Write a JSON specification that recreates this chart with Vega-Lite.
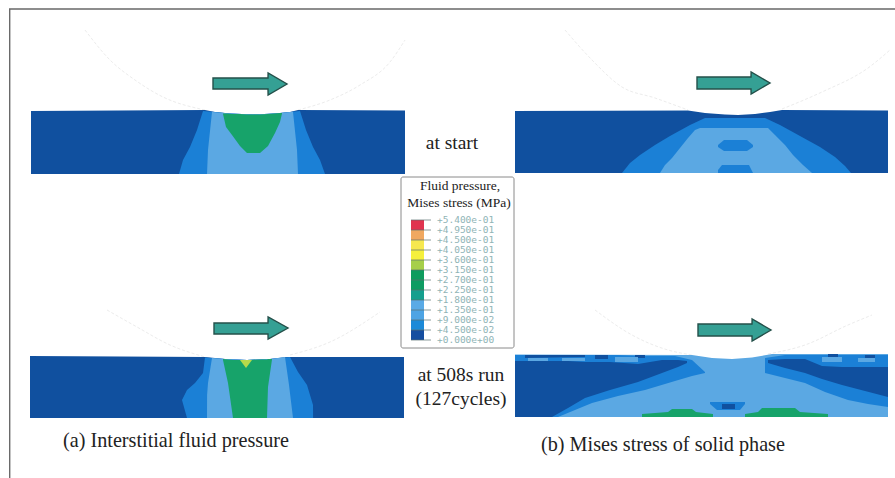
{"$schema":"https://vega.github.io/schema/vega-lite/v6.json","width":895,"height":478,"padding":0,"autosize":"none","background":"#ffffff","view":{"stroke":null},
"datasets":{
"smooth":[
{"id":"A1base","c":"dark","x":31,"t":111,"b":174},{"id":"A1base","c":"dark","x":205,"t":110,"b":174},{"id":"A1base","c":"dark","x":215,"t":112,"b":174},{"id":"A1base","c":"dark","x":230,"t":113.5,"b":174},{"id":"A1base","c":"dark","x":253,"t":114.5,"b":174},{"id":"A1base","c":"dark","x":275,"t":113.5,"b":174},{"id":"A1base","c":"dark","x":290,"t":112,"b":174},{"id":"A1base","c":"dark","x":298,"t":110,"b":174},{"id":"A1base","c":"dark","x":405,"t":110.5,"b":174},
{"id":"A1mid","c":"mid","x":179,"t":174,"b":174},{"id":"A1mid","c":"mid","x":183,"t":160,"b":174},{"id":"A1mid","c":"mid","x":190,"t":147,"b":174},{"id":"A1mid","c":"mid","x":197,"t":130,"b":174},{"id":"A1mid","c":"mid","x":203,"t":111,"b":174},{"id":"A1mid","c":"mid","x":215,"t":112,"b":174},{"id":"A1mid","c":"mid","x":230,"t":113.5,"b":174},{"id":"A1mid","c":"mid","x":253,"t":114.5,"b":174},{"id":"A1mid","c":"mid","x":275,"t":113.5,"b":174},{"id":"A1mid","c":"mid","x":290,"t":112,"b":174},{"id":"A1mid","c":"mid","x":300,"t":111,"b":174},{"id":"A1mid","c":"mid","x":306,"t":130,"b":174},{"id":"A1mid","c":"mid","x":313,"t":147,"b":174},{"id":"A1mid","c":"mid","x":320,"t":160,"b":174},{"id":"A1mid","c":"mid","x":325,"t":174,"b":174},
{"id":"A1light","c":"light","x":207,"t":174,"b":174},{"id":"A1light","c":"light","x":208,"t":150,"b":174},{"id":"A1light","c":"light","x":212,"t":112,"b":174},{"id":"A1light","c":"light","x":230,"t":113.5,"b":174},{"id":"A1light","c":"light","x":253,"t":114.5,"b":174},{"id":"A1light","c":"light","x":275,"t":113.5,"b":174},{"id":"A1light","c":"light","x":290,"t":112,"b":174},{"id":"A1light","c":"light","x":293,"t":112,"b":174},{"id":"A1light","c":"light","x":297,"t":150,"b":174},{"id":"A1light","c":"light","x":298,"t":174,"b":174},
{"id":"A1green","c":"green","x":223,"t":113.5,"b":114},{"id":"A1green","c":"green","x":226,"t":113.5,"b":127},{"id":"A1green","c":"green","x":232,"t":114,"b":135},{"id":"A1green","c":"green","x":240,"t":114,"b":146},{"id":"A1green","c":"green","x":247,"t":114.5,"b":153},{"id":"A1green","c":"green","x":260,"t":114.5,"b":153},{"id":"A1green","c":"green","x":268,"t":114,"b":146},{"id":"A1green","c":"green","x":275,"t":113.5,"b":133},{"id":"A1green","c":"green","x":280,"t":113,"b":122},{"id":"A1green","c":"green","x":282,"t":113,"b":113.5},
{"id":"A2base","c":"dark","x":515,"t":111,"b":173},{"id":"A2base","c":"dark","x":688,"t":110.5,"b":173},{"id":"A2base","c":"dark","x":705,"t":113,"b":173},{"id":"A2base","c":"dark","x":725,"t":114.5,"b":173},{"id":"A2base","c":"dark","x":738,"t":115,"b":173},{"id":"A2base","c":"dark","x":755,"t":114,"b":173},{"id":"A2base","c":"dark","x":770,"t":112,"b":173},{"id":"A2base","c":"dark","x":782,"t":110,"b":173},{"id":"A2base","c":"dark","x":888,"t":110.5,"b":173},
{"id":"B1base","c":"dark","x":30,"t":356,"b":418},{"id":"B1base","c":"dark","x":120,"t":356.5,"b":418},{"id":"B1base","c":"dark","x":205,"t":357,"b":418},{"id":"B1base","c":"dark","x":225,"t":359,"b":418},{"id":"B1base","c":"dark","x":247,"t":360,"b":418},{"id":"B1base","c":"dark","x":270,"t":359,"b":418},{"id":"B1base","c":"dark","x":287,"t":357,"b":418},{"id":"B1base","c":"dark","x":404,"t":357,"b":418},
{"id":"B1mid","c":"mid","x":182,"t":400,"b":400},{"id":"B1mid","c":"mid","x":187,"t":390,"b":418},{"id":"B1mid","c":"mid","x":195,"t":383,"b":418},{"id":"B1mid","c":"mid","x":203,"t":373,"b":418},{"id":"B1mid","c":"mid","x":205,"t":357.5,"b":418},{"id":"B1mid","c":"mid","x":225,"t":359,"b":418},{"id":"B1mid","c":"mid","x":247,"t":360,"b":418},{"id":"B1mid","c":"mid","x":270,"t":359,"b":418},{"id":"B1mid","c":"mid","x":290,"t":357,"b":418},{"id":"B1mid","c":"mid","x":298,"t":372,"b":418},{"id":"B1mid","c":"mid","x":307,"t":385,"b":418},{"id":"B1mid","c":"mid","x":313,"t":405,"b":418},{"id":"B1mid","c":"mid","x":313.1,"t":418,"b":418},
{"id":"B1light","c":"light","x":207,"t":418,"b":418},{"id":"B1light","c":"light","x":207.1,"t":395,"b":418},{"id":"B1light","c":"light","x":208,"t":383,"b":418},{"id":"B1light","c":"light","x":212,"t":358,"b":418},{"id":"B1light","c":"light","x":225,"t":359,"b":418},{"id":"B1light","c":"light","x":247,"t":360,"b":418},{"id":"B1light","c":"light","x":270,"t":359,"b":418},{"id":"B1light","c":"light","x":285,"t":357,"b":418},{"id":"B1light","c":"light","x":289,"t":385,"b":418},{"id":"B1light","c":"light","x":293,"t":418,"b":418},
{"id":"B1green","c":"green","x":223,"t":359,"b":360},{"id":"B1green","c":"green","x":228,"t":359.5,"b":383},{"id":"B1green","c":"green","x":233,"t":360,"b":418},{"id":"B1green","c":"green","x":247,"t":360,"b":418},{"id":"B1green","c":"green","x":262,"t":359.5,"b":418},{"id":"B1green","c":"green","x":267,"t":359.5,"b":418},{"id":"B1green","c":"green","x":268,"t":359,"b":387},{"id":"B1green","c":"green","x":272,"t":359,"b":359.5},
{"id":"B1lime","c":"lime","x":240,"t":360,"b":360},{"id":"B1lime","c":"lime","x":246,"t":360,"b":368},{"id":"B1lime","c":"lime","x":252,"t":360,"b":360},
{"id":"B2base","c":"light","x":515,"t":354.5,"b":417},{"id":"B2base","c":"light","x":692,"t":355,"b":417},{"id":"B2base","c":"light","x":712,"t":358,"b":417},{"id":"B2base","c":"light","x":732,"t":359,"b":417},{"id":"B2base","c":"light","x":752,"t":357.5,"b":417},{"id":"B2base","c":"light","x":772,"t":354,"b":417},{"id":"B2base","c":"light","x":888,"t":354,"b":417},
{"id":"A2mid","c":"mid","x":622,"t":173,"b":173},{"id":"A2mid","c":"mid","x":630,"t":163,"b":173},{"id":"A2mid","c":"mid","x":640,"t":155,"b":173},{"id":"A2mid","c":"mid","x":655,"t":145,"b":173},{"id":"A2mid","c":"mid","x":670,"t":136,"b":173},{"id":"A2mid","c":"mid","x":690,"t":125,"b":173},{"id":"A2mid","c":"mid","x":705,"t":118,"b":173},{"id":"A2mid","c":"mid","x":765,"t":118,"b":173},{"id":"A2mid","c":"mid","x":780,"t":125,"b":173},{"id":"A2mid","c":"mid","x":800,"t":136,"b":173},{"id":"A2mid","c":"mid","x":820,"t":147,"b":173},{"id":"A2mid","c":"mid","x":835,"t":157,"b":173},{"id":"A2mid","c":"mid","x":845,"t":166,"b":173},{"id":"A2mid","c":"mid","x":851,"t":173,"b":173},
{"id":"A2light","c":"light","x":660,"t":173,"b":173},{"id":"A2light","c":"light","x":665,"t":165,"b":173},{"id":"A2light","c":"light","x":672,"t":158,"b":173},{"id":"A2light","c":"light","x":680,"t":148,"b":173},{"id":"A2light","c":"light","x":688,"t":138,"b":173},{"id":"A2light","c":"light","x":695,"t":130,"b":173},{"id":"A2light","c":"light","x":700,"t":128,"b":173},{"id":"A2light","c":"light","x":768,"t":128,"b":173},{"id":"A2light","c":"light","x":775,"t":135,"b":173},{"id":"A2light","c":"light","x":785,"t":145,"b":173},{"id":"A2light","c":"light","x":793,"t":155,"b":173},{"id":"A2light","c":"light","x":803,"t":165,"b":173},{"id":"A2light","c":"light","x":812,"t":173,"b":173},
{"id":"A2blob1","c":"mid","x":718,"t":145,"b":147},{"id":"A2blob1","c":"mid","x":724,"t":140,"b":151},{"id":"A2blob1","c":"mid","x":747,"t":140,"b":151},{"id":"A2blob1","c":"mid","x":753,"t":145,"b":147},
{"id":"A2blob2","c":"mid","x":718,"t":170,"b":173},{"id":"A2blob2","c":"mid","x":722,"t":165,"b":173},{"id":"A2blob2","c":"mid","x":749,"t":165,"b":173},{"id":"A2blob2","c":"mid","x":753,"t":173,"b":173},
{"id":"B2midL","c":"mid","x":515,"t":355,"b":417},{"id":"B2midL","c":"mid","x":558,"t":355,"b":417},{"id":"B2midL","c":"mid","x":575,"t":355,"b":410},{"id":"B2midL","c":"mid","x":592,"t":355,"b":403},{"id":"B2midL","c":"mid","x":618,"t":355,"b":396},{"id":"B2midL","c":"mid","x":645,"t":356,"b":390},{"id":"B2midL","c":"mid","x":675,"t":356,"b":381},{"id":"B2midL","c":"mid","x":692,"t":360,"b":376},{"id":"B2midL","c":"mid","x":705,"t":372,"b":373},
{"id":"B2midR","c":"mid","x":765,"t":358,"b":373},{"id":"B2midR","c":"mid","x":785,"t":355,"b":378},{"id":"B2midR","c":"mid","x":805,"t":355,"b":383},{"id":"B2midR","c":"mid","x":825,"t":355,"b":392},{"id":"B2midR","c":"mid","x":848,"t":355,"b":400},{"id":"B2midR","c":"mid","x":868,"t":355,"b":404},{"id":"B2midR","c":"mid","x":888,"t":355,"b":407},
{"id":"B2darkL","c":"dark","x":515,"t":361,"b":417},{"id":"B2darkL","c":"dark","x":552,"t":361,"b":417},{"id":"B2darkL","c":"dark","x":568,"t":361,"b":408},{"id":"B2darkL","c":"dark","x":585,"t":362,"b":398},{"id":"B2darkL","c":"dark","x":610,"t":362,"b":390},{"id":"B2darkL","c":"dark","x":638,"t":364,"b":382},{"id":"B2darkL","c":"dark","x":662,"t":360,"b":373},{"id":"B2darkL","c":"dark","x":678,"t":360,"b":367},{"id":"B2darkL","c":"dark","x":687,"t":361,"b":363},
{"id":"B2darkR","c":"dark","x":768,"t":360,"b":363},{"id":"B2darkR","c":"dark","x":785,"t":359,"b":368},{"id":"B2darkR","c":"dark","x":805,"t":359,"b":373},{"id":"B2darkR","c":"dark","x":822,"t":366,"b":379},{"id":"B2darkR","c":"dark","x":842,"t":367,"b":385},{"id":"B2darkR","c":"dark","x":865,"t":367,"b":391},{"id":"B2darkR","c":"dark","x":888,"t":367,"b":397},
{"id":"B2top1","c":"dark","x":525,"t":355,"b":358},{"id":"B2top1","c":"dark","x":585,"t":355,"b":357},
{"id":"B2top2","c":"dark","x":595,"t":355,"b":359},{"id":"B2top2","c":"dark","x":608,"t":355,"b":359},
{"id":"B2top3","c":"dark","x":635,"t":355,"b":358},{"id":"B2top3","c":"dark","x":645,"t":355,"b":358},
{"id":"B2top4","c":"dark","x":828,"t":354,"b":357},{"id":"B2top4","c":"dark","x":838,"t":354,"b":357},
{"id":"B2top5","c":"dark","x":865,"t":355,"b":358},{"id":"B2top5","c":"dark","x":875,"t":355,"b":358},
{"id":"B2p1","c":"light","x":528,"t":358,"b":361},{"id":"B2p1","c":"light","x":548,"t":358,"b":361},
{"id":"B2p2","c":"light","x":562,"t":358,"b":361},{"id":"B2p2","c":"light","x":585,"t":358,"b":361},
{"id":"B2p3","c":"light","x":615,"t":357,"b":362},{"id":"B2p3","c":"light","x":638,"t":357,"b":362},
{"id":"B2p4","c":"light","x":822,"t":357,"b":362},{"id":"B2p4","c":"light","x":842,"t":357,"b":362},
{"id":"B2p5","c":"light","x":858,"t":358,"b":362},{"id":"B2p5","c":"light","x":875,"t":358,"b":362},
{"id":"B2c1","c":"mid","x":710,"t":402,"b":404},{"id":"B2c1","c":"mid","x":717,"t":402,"b":410},{"id":"B2c1","c":"mid","x":740,"t":402,"b":410},{"id":"B2c1","c":"mid","x":745,"t":402,"b":404},
{"id":"B2c2","c":"dark","x":722,"t":404,"b":409},{"id":"B2c2","c":"dark","x":735,"t":404,"b":409},
{"id":"B2g1","c":"green","x":642,"t":414,"b":417},{"id":"B2g1","c":"green","x":668,"t":412,"b":417},{"id":"B2g1","c":"green","x":672,"t":409,"b":417},{"id":"B2g1","c":"green","x":692,"t":409,"b":417},{"id":"B2g1","c":"green","x":696,"t":412,"b":417},{"id":"B2g1","c":"green","x":713,"t":414,"b":417},
{"id":"B2g2","c":"green","x":745,"t":414,"b":417},{"id":"B2g2","c":"green","x":758,"t":412,"b":417},{"id":"B2g2","c":"green","x":762,"t":408,"b":417},{"id":"B2g2","c":"green","x":795,"t":408,"b":417},{"id":"B2g2","c":"green","x":800,"t":412,"b":417},{"id":"B2g2","c":"green","x":828,"t":414,"b":417}
],
"arrows":[
{"id":"a1","x":213,"t":78,"b":89},{"id":"a1","x":268,"t":78,"b":89},{"id":"a1","x":268.1,"t":73,"b":95},{"id":"a1","x":287,"t":84,"b":84},
{"id":"a2","x":697,"t":77,"b":89},{"id":"a2","x":751,"t":77,"b":89},{"id":"a2","x":751.1,"t":72,"b":94},{"id":"a2","x":770,"t":83,"b":83},
{"id":"a3","x":214,"t":323,"b":334},{"id":"a3","x":268,"t":323,"b":334},{"id":"a3","x":268.1,"t":317,"b":339},{"id":"a3","x":288,"t":328,"b":328},
{"id":"a4","x":698,"t":324,"b":336},{"id":"a4","x":752,"t":324,"b":336},{"id":"a4","x":752.1,"t":319,"b":341},{"id":"a4","x":771,"t":330,"b":330}
],
"arcs":[
{"id":"r1l","o":1,"x":85,"y":30},{"id":"r1l","o":2,"x":110,"y":60},{"id":"r1l","o":3,"x":135,"y":80},{"id":"r1l","o":4,"x":163,"y":97},{"id":"r1l","o":5,"x":205,"y":110},
{"id":"r1r","o":1,"x":298,"y":110},{"id":"r1r","o":2,"x":330,"y":100},{"id":"r1r","o":3,"x":360,"y":85},{"id":"r1r","o":4,"x":390,"y":62},{"id":"r1r","o":5,"x":405,"y":40},
{"id":"r2l","o":1,"x":565,"y":30},{"id":"r2l","o":2,"x":592,"y":60},{"id":"r2l","o":3,"x":622,"y":87},{"id":"r2l","o":4,"x":655,"y":98},{"id":"r2l","o":5,"x":688,"y":110},
{"id":"r2r","o":1,"x":782,"y":109},{"id":"r2r","o":2,"x":822,"y":92},{"id":"r2r","o":3,"x":868,"y":68},{"id":"r2r","o":4,"x":890,"y":50},
{"id":"r3l","o":1,"x":107,"y":310},{"id":"r3l","o":2,"x":137,"y":327},{"id":"r3l","o":3,"x":170,"y":345},{"id":"r3l","o":4,"x":205,"y":357},
{"id":"r3r","o":1,"x":290,"y":355},{"id":"r3r","o":2,"x":330,"y":342},{"id":"r3r","o":3,"x":380,"y":312},
{"id":"r4l","o":1,"x":595,"y":310},{"id":"r4l","o":2,"x":632,"y":335},{"id":"r4l","o":3,"x":668,"y":350},{"id":"r4l","o":4,"x":692,"y":355},
{"id":"r4r","o":1,"x":768,"y":354},{"id":"r4r","o":2,"x":805,"y":345},{"id":"r4r","o":3,"x":848,"y":325},{"id":"r4r","o":4,"x":872,"y":315}
],
"bar":[
{"k":"s12","c":"#e0344f","x":411,"x2":424,"y":220,"y2":230},{"k":"s11","c":"#f0a860","x":411,"x2":424,"y":230,"y2":240},{"k":"s10","c":"#f6e850","x":411,"x2":424,"y":240,"y2":250},{"k":"s09","c":"#f5f03c","x":411,"x2":424,"y":250,"y2":260},{"k":"s08","c":"#a6cf4a","x":411,"x2":424,"y":260,"y2":270},{"k":"s07","c":"#0f9c5e","x":411,"x2":424,"y":270,"y2":280},{"k":"s06","c":"#0f9c62","x":411,"x2":424,"y":280,"y2":290},{"k":"s05","c":"#159f8e","x":411,"x2":424,"y":290,"y2":300},{"k":"s04","c":"#5aaae6","x":411,"x2":424,"y":300,"y2":310},{"k":"s03","c":"#4ea4e4","x":411,"x2":424,"y":310,"y2":320},{"k":"s02","c":"#1c8ad8","x":411,"x2":424,"y":320,"y2":330},{"k":"s01","c":"#154ea0","x":411,"x2":424,"y":330,"y2":340}
],
"ticks":[
{"label":"+5.400e-01","x":411,"x2":431,"y":220},{"label":"+4.950e-01","x":411,"x2":431,"y":230},{"label":"+4.500e-01","x":411,"x2":431,"y":240},{"label":"+4.050e-01","x":411,"x2":431,"y":250},{"label":"+3.600e-01","x":411,"x2":431,"y":260},{"label":"+3.150e-01","x":411,"x2":431,"y":270},{"label":"+2.700e-01","x":411,"x2":431,"y":280},{"label":"+2.250e-01","x":411,"x2":431,"y":290},{"label":"+1.800e-01","x":411,"x2":431,"y":300},{"label":"+1.350e-01","x":411,"x2":431,"y":310},{"label":"+9.000e-02","x":411,"x2":431,"y":320},{"label":"+4.500e-02","x":411,"x2":431,"y":330},{"label":"+0.000e+00","x":411,"x2":431,"y":340}
]},
"layer":[
{"data":{"values":[{"x":9,"x2":895,"y":9,"y2":9}]},"mark":{"type":"rule","color":"#1c1c1c","strokeWidth":1.2},"encoding":{"x":{"field":"x","type":"quantitative","scale":{"domain":[0,895],"nice":false,"zero":false},"axis":null},"x2":{"field":"x2"},"y":{"field":"y","type":"quantitative","scale":{"domain":[478,0],"nice":false,"zero":false},"axis":null},"y2":{"field":"y2"}}},
{"data":{"values":[{"x":9.7,"x2":9.7,"y":9,"y2":478}]},"mark":{"type":"rule","color":"#6a6a6a","strokeWidth":1.4},"encoding":{"x":{"field":"x","type":"quantitative","axis":null},"x2":{"field":"x2"},"y":{"field":"y","type":"quantitative","axis":null},"y2":{"field":"y2"}}},
{"data":{"name":"arcs"},"mark":{"type":"line","color":"#ececec","strokeWidth":1,"strokeDash":[3,2],"interpolate":"monotone"},"encoding":{"x":{"field":"x","type":"quantitative","axis":null},"y":{"field":"y","type":"quantitative","axis":null},"detail":{"field":"id"},"order":{"field":"o"}}},
{"data":{"name":"smooth"},"mark":{"type":"area","opacity":1},"encoding":{"x":{"field":"x","type":"quantitative","axis":null},"y":{"field":"t","type":"quantitative","axis":null,"stack":null},"y2":{"field":"b"},"detail":{"field":"id"},"color":{"field":"c","type":"nominal","legend":null,"scale":{"domain":["dark","mid","light","green","lime"],"range":["#10509f","#1b80d6","#5ba8e3","#17a36a","#b7d94a"]}}}},
{"data":{"name":"arrows"},"mark":{"type":"area","fill":"#35a094","stroke":"#24504a","strokeWidth":1.4,"opacity":1},"encoding":{"x":{"field":"x","type":"quantitative","axis":null},"y":{"field":"t","type":"quantitative","axis":null,"stack":null},"y2":{"field":"b"},"detail":{"field":"id"}}},
{"data":{"values":[{"x":401,"x2":514,"y":177,"y2":348}]},"mark":{"type":"rect","fill":"#ffffff","stroke":"#8a8a8a","strokeWidth":1,"cornerRadius":2},"encoding":{"x":{"field":"x","type":"quantitative","axis":null},"x2":{"field":"x2"},"y":{"field":"y","type":"quantitative","axis":null},"y2":{"field":"y2"}}},
{"data":{"name":"bar"},"mark":{"type":"rect"},"encoding":{"x":{"field":"x","type":"quantitative","axis":null},"x2":{"field":"x2"},"y":{"field":"y","type":"quantitative","axis":null},"y2":{"field":"y2"},"fill":{"field":"c","type":"nominal","scale":null}}},
{"data":{"name":"ticks"},"mark":{"type":"rule","color":"#5a7070","strokeWidth":0.7},"encoding":{"x":{"field":"x","type":"quantitative","axis":null},"x2":{"field":"x2"},"y":{"field":"y","type":"quantitative","axis":null}}},
{"data":{"name":"ticks"},"mark":{"type":"text","align":"left","baseline":"middle","font":"DejaVu Sans Mono","fontSize":9.5,"color":"#8fb4b6","dx":6},"encoding":{"x":{"field":"x2","type":"quantitative","axis":null},"y":{"field":"y","type":"quantitative","axis":null},"text":{"field":"label"}}},
{"data":{"values":[{"t":"Fluid pressure,","x":460,"y":190},{"t":"Mises stress (MPa)","x":459,"y":207}]},"mark":{"type":"text","align":"center","baseline":"alphabetic","font":"Liberation Serif","fontSize":13.5,"color":"#222222"},"encoding":{"x":{"field":"x","type":"quantitative","axis":null},"y":{"field":"y","type":"quantitative","axis":null},"text":{"field":"t"}}},
{"data":{"values":[{"t":"at start","x":452,"y":149},{"t":"at 508s run","x":461,"y":381},{"t":"(127cycles)","x":461,"y":405}]},"mark":{"type":"text","align":"center","baseline":"alphabetic","font":"Liberation Serif","fontSize":19.5,"color":"#222222"},"encoding":{"x":{"field":"x","type":"quantitative","axis":null},"y":{"field":"y","type":"quantitative","axis":null},"text":{"field":"t"}}},
{"data":{"values":[{"t":"(a) Interstitial fluid pressure","x":63,"y":447},{"t":"(b) Mises stress of solid phase","x":541,"y":451}]},"mark":{"type":"text","align":"left","baseline":"alphabetic","font":"Liberation Serif","fontSize":20.2,"color":"#222222"},"encoding":{"x":{"field":"x","type":"quantitative","axis":null},"y":{"field":"y","type":"quantitative","axis":null},"text":{"field":"t"}}}
]}
